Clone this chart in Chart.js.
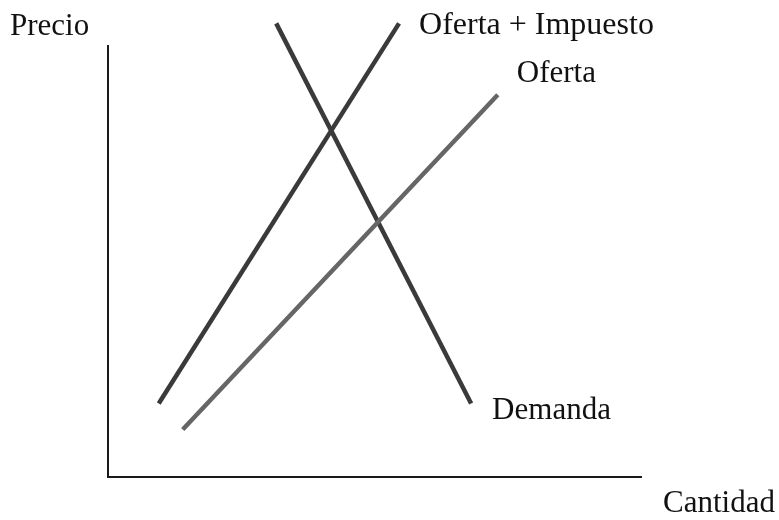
<!DOCTYPE html>
<html>
<head>
<meta charset="utf-8">
<script src="https://cdn.jsdelivr.net/npm/chart.js@4/dist/chart.umd.min.js"></script>
<style>
  html, body { margin: 0; padding: 0; background: #ffffff; }
  #wrap { width: 779px; height: 520px; }
</style>
</head>
<body>
<div id="wrap"><canvas id="c" width="779" height="520"></canvas></div>
<script>
// Data (quantity on x, price on y; 0-100 span of the drawn axes)
const seriesNames = ["Oferta + Impuesto", "Oferta", "Demanda"];
const ofertaImpuesto = [{x: 9.5, y: 17}, {x: 54.5, y: 105}];
const oferta = [{x: 14, y: 11}, {x: 73, y: 88.5}];
const demanda = [{x: 31.5, y: 105}, {x: 68, y: 17}];
const axisLabels = {x: "Cantidad", y: "Precio"};

const serif = "'Liberation Serif', 'Times New Roman', serif";

const decor = {
  id: "decor",
  afterDraw(chart) {
    const ctx = chart.ctx;
    const xs = chart.scales.x, ys = chart.scales.y;
    const x0 = xs.getPixelForValue(0), x1 = xs.getPixelForValue(100);
    const y0 = ys.getPixelForValue(0), y1 = ys.getPixelForValue(100);
    ctx.save();
    ctx.strokeStyle = "#1a1a1a";
    ctx.lineWidth = 2;
    ctx.beginPath();
    ctx.moveTo(x0, y1);
    ctx.lineTo(x0, y0);
    ctx.lineTo(x1, y0);
    ctx.stroke();

    ctx.fillStyle = "#111";
    ctx.font = "31px " + serif;
    ctx.textBaseline = "alphabetic";
    ctx.textAlign = "left";
    // axis labels
    ctx.fillText(axisLabels.y, x0 - 98, y1 - 10);
    ctx.fillText(axisLabels.x, x1 + 21, y0 + 35);
    // series labels
    const pImp = ofertaImpuesto[1], pOf = oferta[1], pDem = demanda[1];
    ctx.font = "32px " + serif;
    ctx.fillText(seriesNames[0], xs.getPixelForValue(pImp.x) + 20, ys.getPixelForValue(pImp.y) + 11);
    ctx.font = "31px " + serif;
    ctx.fillText(seriesNames[1], xs.getPixelForValue(pOf.x) + 19, ys.getPixelForValue(pOf.y) - 13);
    ctx.fillText(seriesNames[2], xs.getPixelForValue(pDem.x) + 21, ys.getPixelForValue(pDem.y) + 15);
    ctx.restore();
  }
};

const mk = (label, data, color) => ({
  label, data,
  borderColor: color,
  borderWidth: 4.5,
  pointRadius: 0,
  fill: false,
  tension: 0,
  clip: false,
  borderCapStyle: "butt"
});

new Chart(document.getElementById("c"), {
  type: "line",
  data: {
    datasets: [
      mk(seriesNames[0], ofertaImpuesto, "#3a3a3a"),
      mk(seriesNames[1], oferta, "#666666"),
      mk(seriesNames[2], demanda, "#3a3a3a")
    ]
  },
  options: {
    responsive: false,
    devicePixelRatio: 1,
    animation: false,
    layout: { padding: { left: 108, top: 45, right: 137, bottom: 43 } },
    plugins: { legend: { display: false }, tooltip: { enabled: false } },
    scales: {
      x: { type: "linear", min: 0, max: 100, display: false },
      y: { type: "linear", min: 0, max: 100, display: false }
    }
  },
  plugins: [decor]
});
</script>
</body>
</html>
